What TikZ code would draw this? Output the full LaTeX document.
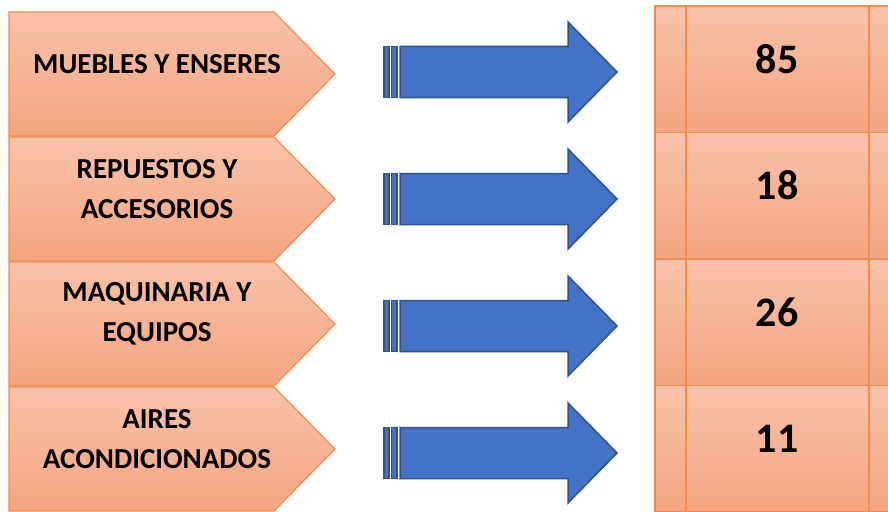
\documentclass[tikz,border=0pt]{standalone}
\usepackage{fontspec}
\setmainfont{Carlito}
\usepackage{tikz}
\usetikzlibrary{positioning,calc}

\definecolor{peachtop}{RGB}{248,194,170}
\definecolor{peachbot}{RGB}{244,164,128}
\definecolor{peachline}{RGB}{241,139,78}
\definecolor{arrowblue}{RGB}{68,114,196}
\definecolor{arrowedge}{RGB}{47,82,143}

\begin{document}
\begin{tikzpicture}[x=1pt,y=-1pt]

  \tikzset{
    tag/.style={top color=peachtop,bottom color=peachbot,draw=peachline,line width=1.2pt},
    cellline/.style={draw=peachline,line width=1.2pt},
    bluearrow/.style={fill=arrowblue,draw=arrowedge,line width=1.5pt,line join=miter},
    catlabel/.style={font=\bfseries\fontsize{29}{40}\selectfont,align=center,inner sep=0pt},
    numlabel/.style={font=\bfseries\fontsize{42}{42}\selectfont,inner sep=0pt},
  }

  \useasboundingbox (0,0) rectangle (888,511);

  \foreach \txt/\num [count=\i from 0] in {{MUEBLES Y ENSERES}/85,
      {REPUESTOS Y\\ACCESORIOS}/18, {MAQUINARIA Y\\EQUIPOS}/26,
      {AIRES\\ACONDICIONADOS}/11} {
    \pgfmathsetmacro{\rowtop}{12+125*\i}
    \pgfmathsetmacro{\arrowmid}{72+127*\i}
    \pgfmathsetmacro{\celltop}{6+126.5*\i}

    % pentagon tag
    \draw[tag] (9,\rowtop) -- (274,\rowtop) -- (335,\rowtop+62)
      -- (274,\rowtop+124) -- (9,\rowtop+124) -- cycle;
    \node[catlabel] (cat\i) at (157,\rowtop+52) {\txt};

    % striped arrow
    \draw[bluearrow] (384,\arrowmid-25.5) rectangle (389,\arrowmid+25.5);
    \draw[bluearrow] (391.5,\arrowmid-25.5) rectangle (397,\arrowmid+25.5);
    \draw[bluearrow] (400,\arrowmid-25.5) -- (568,\arrowmid-25.5)
      -- (568,\arrowmid-50) -- (617,\arrowmid) -- (568,\arrowmid+50)
      -- (568,\arrowmid+25.5) -- (400,\arrowmid+25.5) -- cycle;

    % value cell
    \draw[tag] (655,\celltop) rectangle (900,\celltop+126.5);
    \draw[cellline] (686,\celltop) -- (686,\celltop+126.5);
    \draw[cellline] (869,\celltop) -- (869,\celltop+126.5);
    \node[numlabel] (num\i) at (777,\celltop+53) {\num};
  }

\end{tikzpicture}
\end{document}
